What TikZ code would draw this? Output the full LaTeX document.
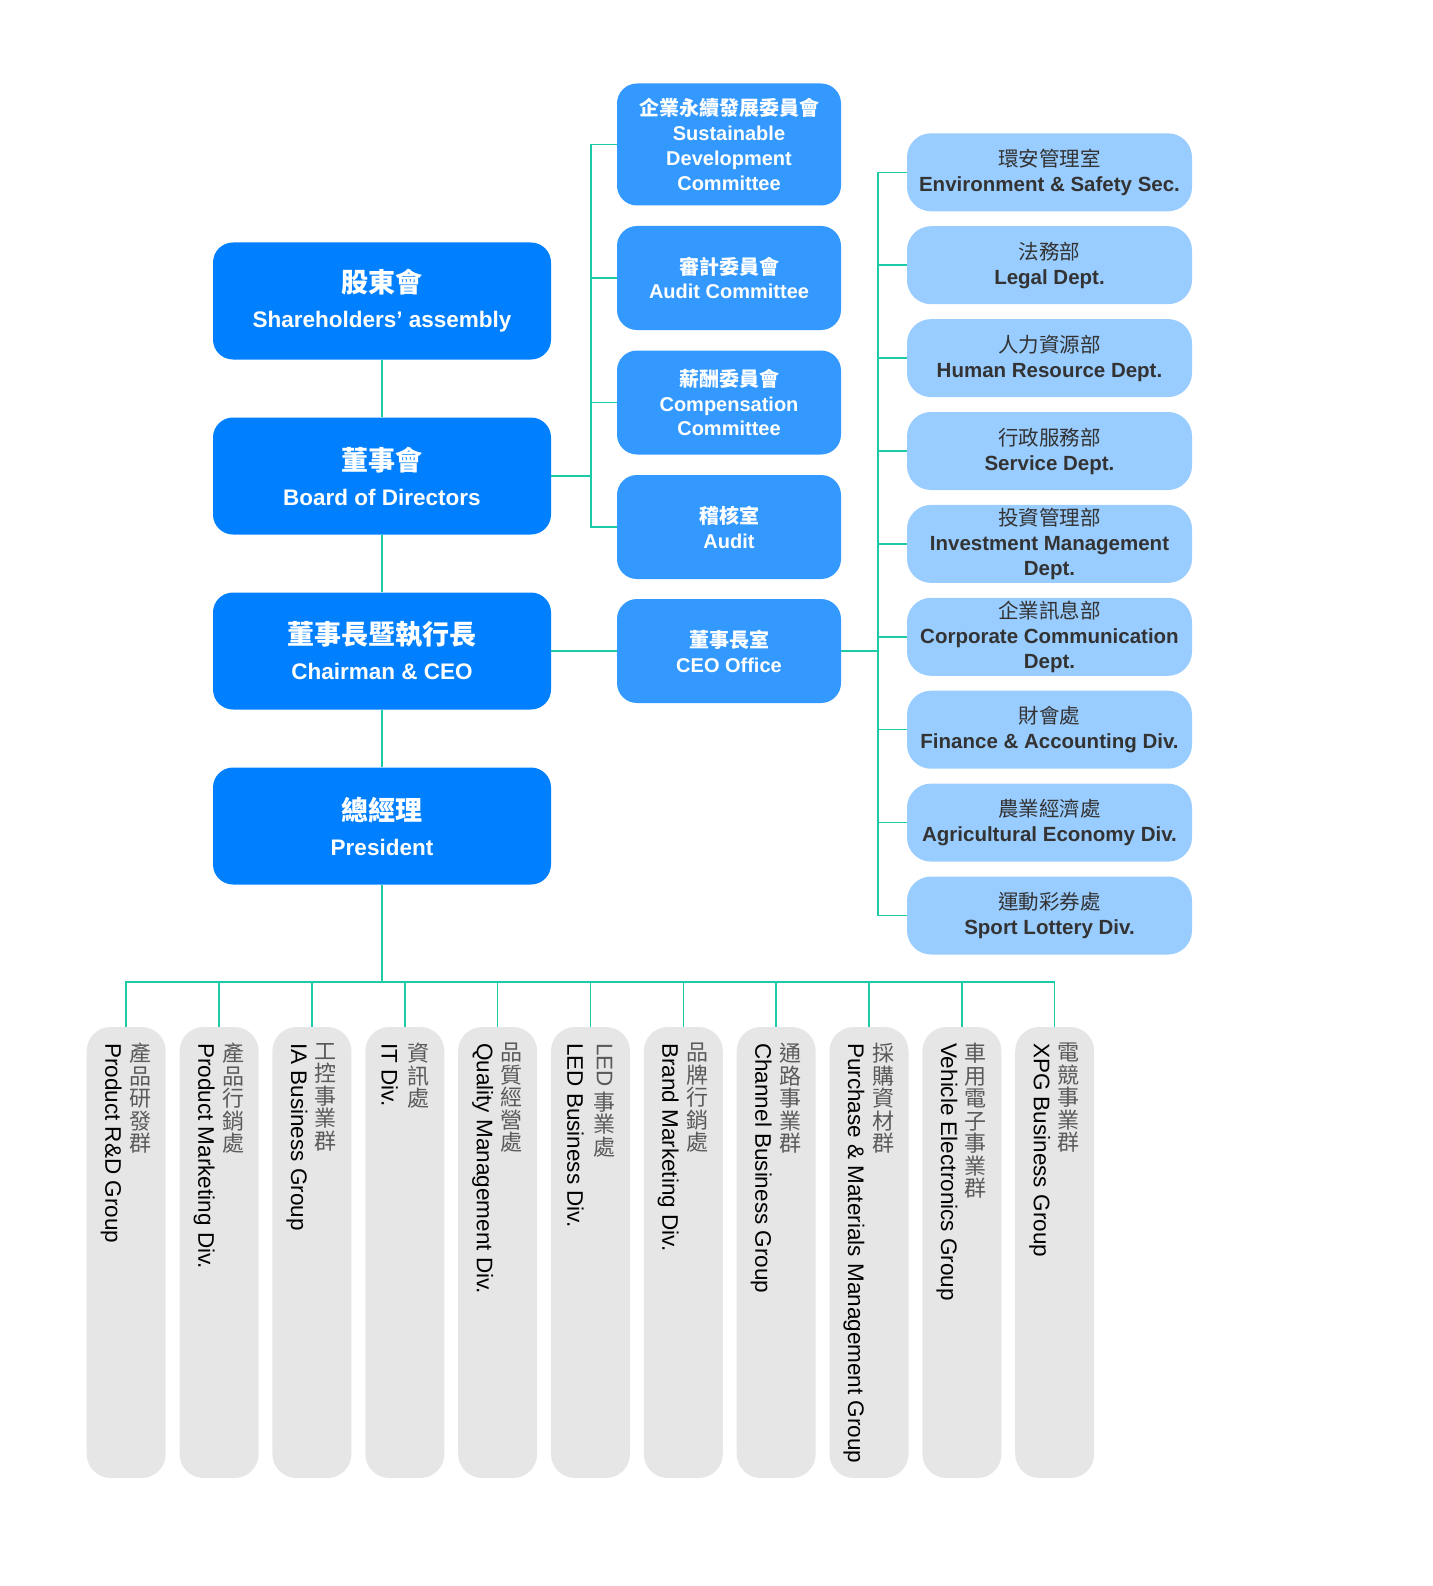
\documentclass[tikz,border=0pt]{standalone}
\usepackage{fontspec}
\setmainfont{Liberation Sans}
\newfontfamily\cjk{Noto Sans CJK TC}

\definecolor{boardblue}{HTML}{0080FF}
\definecolor{cmtblue}{HTML}{3399FF}
\definecolor{deptblue}{HTML}{99CCFF}
\definecolor{grpgray}{HTML}{E6E6E6}
\definecolor{linkteal}{HTML}{1CCAA8}
\definecolor{deptink}{HTML}{333333}
\definecolor{zhgray}{HTML}{5A5A5A}

\newcommand{\zh}[1]{{\cjk\mdseries #1}}
\newcommand{\zhb}[1]{{\cjk\bfseries #1}}

\tikzset{
	topbox/.style={fill=boardblue, rounded corners=20pt, minimum width=338pt, minimum height=117pt, inner sep=0pt, align=center, text=white, font=\bfseries\fontsize{22.5}{35}\selectfont},
	cmtbox/.style={fill=cmtblue, rounded corners=20pt, minimum width=224pt, minimum height=104pt, inner sep=0pt, align=center, text=white, font=\bfseries\fontsize{20}{24.8}\selectfont},
	deptbox/.style={fill=deptblue, rounded corners=24pt, minimum width=285pt, minimum height=78pt, inner sep=0pt, align=center, text=deptink, font=\bfseries\fontsize{20.5}{25}\selectfont},
	grpbox/.style={fill=grpgray, rounded corners=24pt, minimum width=79pt, minimum height=451pt, inner sep=0pt},
	grpen/.style={rotate=-90, anchor=west, inner sep=0pt, font=\fontsize{22.5}{27}\selectfont},
	grpzh/.style={anchor=north, inner sep=0pt, align=center, text=zhgray, font=\cjk\fontsize{22}{22.5}\selectfont},
	link/.style={draw=linkteal, line width=1.5pt},
}

\begin{document}
\begin{tikzpicture}[x=1pt,y=-1pt]
\useasboundingbox (0,0) rectangle (1432,1586);

% left column
\node[topbox] (share) at (382,301) {{\cjk\bfseries\fontsize{27}{35}\selectfont 股東會}\\Shareholders’ assembly};
\node[topbox] (board) at (382,476) {{\cjk\bfseries\fontsize{27}{35}\selectfont 董事會}\\Board of Directors};
\node[topbox] (chair) at (382,651) {{\cjk\bfseries\fontsize{27}{35}\selectfont 董事長暨執行長}\\Chairman \& CEO};
\node[topbox] (pres) at (382,826) {{\cjk\bfseries\fontsize{27}{35}\selectfont 總經理}\\President};

% committees
\node[cmtbox, minimum height=122pt] (sdc) at (729,144.5) {\zhb{企業永續發展委員會}\\Sustainable\\Development\\Committee};
\node[cmtbox] (audc) at (729,278) {\zhb{審計委員會}\\Audit Committee};
\node[cmtbox] (comp) at (729,402.5) {\zhb{薪酬委員會}\\Compensation\\Committee};
\node[cmtbox] (audit) at (729,527) {\zhb{稽核室}\\Audit};
\node[cmtbox] (ceo) at (729,651) {\zhb{董事長室}\\CEO Office};

% departments
\node[deptbox] (env) at (1049.5,172.3) {\zh{環安管理室}\\Environment \& Safety Sec.};
\node[deptbox] (legal) at (1049.5,265.2) {\zh{法務部}\\Legal Dept.};
\node[deptbox] (hr) at (1049.5,358.1) {\zh{人力資源部}\\Human Resource Dept.};
\node[deptbox] (svc) at (1049.5,451.0) {\zh{行政服務部}\\Service Dept.};
\node[deptbox] (inv) at (1049.5,543.9) {\zh{投資管理部}\\Investment Management\\Dept.};
\node[deptbox] (corp) at (1049.5,636.8) {\zh{企業訊息部}\\Corporate Communication\\Dept.};
\node[deptbox] (fin) at (1049.5,729.7) {\zh{財會處}\\Finance \& Accounting Div.};
\node[deptbox] (agri) at (1049.5,822.6) {\zh{農業經濟處}\\Agricultural Economy Div.};
\node[deptbox] (lott) at (1049.5,915.5) {\zh{運動彩券處}\\Sport Lottery Div.};

% business groups
\node[grpbox] (rd) at (126.2,1252.5) {};
\node[grpen] (rdEn) at (111.2,1043) {Product R\&D Group};
\node[grpzh] (rdZh) at (140.2,1043) {產\\品\\研\\發\\群};
\node[grpbox] (pm) at (219.1,1252.5) {};
\node[grpen] (pmEn) at (204.1,1043) {Product Marketing Div.};
\node[grpzh] (pmZh) at (233.1,1043) {產\\品\\行\\銷\\處};
\node[grpbox] (ia) at (311.9,1252.5) {};
\node[grpen] (iaEn) at (296.9,1043) {IA Business Group};
\node[grpzh] (iaZh) at (325.9,1043) {工\\控\\事\\業\\群};
\node[grpbox] (it) at (404.8,1252.5) {};
\node[grpen] (itEn) at (389.8,1043) {IT Div.};
\node[grpzh] (itZh) at (418.8,1043) {資\\訊\\處};
\node[grpbox] (qm) at (497.6,1252.5) {};
\node[grpen] (qmEn) at (482.6,1043) {Quality Management Div.};
\node[grpzh] (qmZh) at (511.6,1043) {品\\質\\經\\營\\處};
\node[grpbox] (led) at (590.5,1252.5) {};
\node[grpen] (ledEn) at (575.5,1043) {LED Business Div.};
\node[grpzh] (ledZh) at (604.5,1043) {\rotatebox{-90}{\normalfont\fontsize{22.5}{27}\selectfont LED}\\[4pt]事\\業\\處};
\node[grpbox] (brand) at (683.3,1252.5) {};
\node[grpen] (brandEn) at (668.3,1043) {Brand Marketing Div.};
\node[grpzh] (brandZh) at (697.3,1043) {品\\牌\\行\\銷\\處};
\node[grpbox] (chan) at (776.2,1252.5) {};
\node[grpen] (chanEn) at (761.2,1043) {Channel Business Group};
\node[grpzh] (chanZh) at (790.2,1043) {通\\路\\事\\業\\群};
\node[grpbox] (purch) at (869.0,1252.5) {};
\node[grpen] (purchEn) at (854.0,1043) {Purchase \& Materials Management Group};
\node[grpzh] (purchZh) at (883.0,1043) {採\\購\\資\\材\\群};
\node[grpbox] (veh) at (961.9,1252.5) {};
\node[grpen] (vehEn) at (946.9,1043) {Vehicle Electronics Group};
\node[grpzh] (vehZh) at (975.9,1043) {車\\用\\電\\子\\事\\業\\群};
\node[grpbox] (xpg) at (1054.7,1252.5) {};
\node[grpen] (xpgEn) at (1039.7,1043) {XPG Business Group};
\node[grpzh] (xpgZh) at (1068.7,1043) {電\\競\\事\\業\\群};

% connectors
\coordinate (busA) at (591,476);
\coordinate (busB) at (878,651);
\coordinate (busC) at (382,982);
\draw[link] (share.south) -- (board.north);
\draw[link] (board.south) -- (chair.north);
\draw[link] (chair.south) -- (pres.north);
\draw[link] (board.east) -- (busA);
\draw[link] (busA) |- (sdc.west);
\draw[link] (busA) |- (audc.west);
\draw[link] (busA) |- (comp.west);
\draw[link] (busA) |- (audit.west);
\draw[link] (chair.east) -- (ceo.west);
\draw[link] (ceo.east) -- (busB);
\draw[link] (busB) |- (env.west);
\draw[link] (busB) |- (legal.west);
\draw[link] (busB) |- (hr.west);
\draw[link] (busB) |- (svc.west);
\draw[link] (busB) |- (inv.west);
\draw[link] (busB) |- (corp.west);
\draw[link] (busB) |- (fin.west);
\draw[link] (busB) |- (agri.west);
\draw[link] (busB) |- (lott.west);
\draw[link] (pres.south) -- (busC);
\draw[link] (busC) -| (rd.north);
\draw[link] (busC) -| (pm.north);
\draw[link] (busC) -| (ia.north);
\draw[link] (busC) -| (it.north);
\draw[link] (busC) -| (qm.north);
\draw[link] (busC) -| (led.north);
\draw[link] (busC) -| (brand.north);
\draw[link] (busC) -| (chan.north);
\draw[link] (busC) -| (purch.north);
\draw[link] (busC) -| (veh.north);
\draw[link] (busC) -| (xpg.north);
\end{tikzpicture}
\end{document}
